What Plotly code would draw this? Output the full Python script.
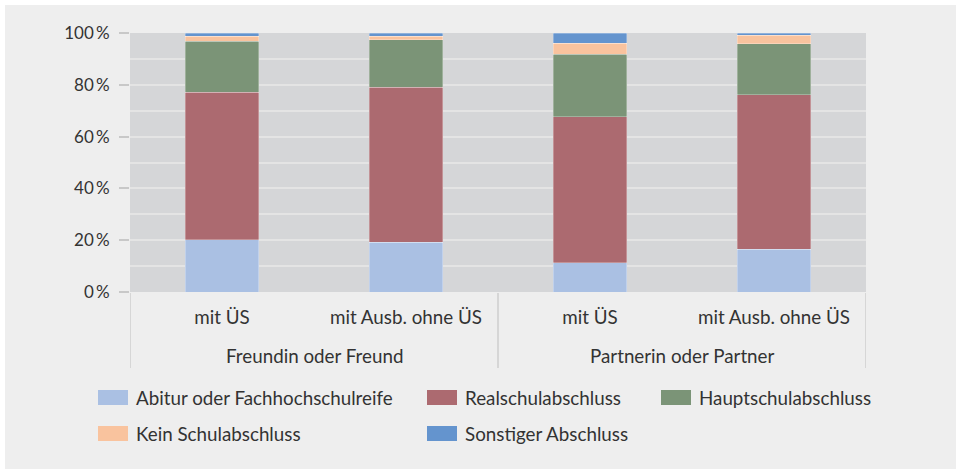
import plotly.graph_objects as go

groups = ["Freundin oder Freund", "Freundin oder Freund", "Partnerin oder Partner", "Partnerin oder Partner"]
subgroups = ["mit ÜS", "mit Ausb. ohne ÜS", "mit ÜS", "mit Ausb. ohne ÜS"]

series_names = ["Abitur oder Fachhochschulreife", "Realschulabschluss", "Hauptschulabschluss",
                "Kein Schulabschluss", "Sonstiger Abschluss"]
abitur = [20.1, 19.2, 11.2, 16.6]
realschule = [57.1, 59.8, 56.4, 59.6]
hauptschule = [19.7, 18.3, 24.2, 19.6]
kein = [1.9, 1.5, 4.3, 3.3]
sonstiger = [1.2, 1.2, 3.9, 0.9]
series_values = [abitur, realschule, hauptschule, kein, sonstiger]
colors = ["#aac0e3", "#ac6a70", "#7b9477", "#f9c39e", "#6494ce"]

y_ticks = [0, 20, 40, 60, 80, 100]
y_ticklabels = [f"{v}\u2009%" for v in y_ticks]

W, H = 956, 469
ML, MR, MT, MB = 130, 90, 33, 177
FONT = "Lato"
FS = 18.8
TXT = "#333333"

xpos = list(range(len(subgroups)))

fig = go.Figure()
for name, vals, col in zip(series_names, series_values, colors):
    fig.add_trace(go.Bar(
        x=xpos, y=vals, name=name,
        marker=dict(color=col, line=dict(color="rgba(255,255,255,0.35)", width=0.8)),
        showlegend=False,
    ))

pw = W - ML - MR
ph = H - MT - MB
def px_x(p):
    return (p - ML) / pw
def px_y(p):
    return 1 - (p - MT) / ph

shapes = [
    dict(type="rect", xref="paper", yref="paper", x0=px_x(0), x1=px_x(5), y0=px_y(H), y1=px_y(0),
         fillcolor="white", line=dict(width=0), layer="below"),
    dict(type="rect", xref="paper", yref="paper", x0=px_x(0), x1=px_x(W), y0=px_y(5), y1=px_y(0),
         fillcolor="white", line=dict(width=0), layer="below"),
]
annotations = []

# group labels and dividers derived from the group list
bounds = [-0.5]
group_order = []
for i, g in enumerate(groups):
    if i > 0 and g != groups[i - 1]:
        bounds.append(i - 0.5)
    if g not in group_order:
        group_order.append(g)
bounds.append(len(groups) - 0.5)
for b in bounds:
    shapes.append(dict(type="line", xref="x", yref="paper", x0=b, x1=b,
                       y0=px_y(293), y1=px_y(368), line=dict(color="#d6d6d6", width=2)))
for g in group_order:
    idx = [i for i, gg in enumerate(groups) if gg == g]
    annotations.append(dict(xref="x", yref="paper", x=sum(idx) / len(idx), y=px_y(355),
                            xanchor="center", yanchor="middle", showarrow=False, text=g,
                            font=dict(family=FONT, size=FS, color=TXT)))

# manual legend
col_x = [98, 427, 661]
row_y = [397.5, 433.5]
positions = [(0, 0), (1, 0), (2, 0), (0, 1), (1, 1)]
for (ci, ri), name, col in zip(positions, series_names, colors):
    x0 = col_x[ci]
    yc = row_y[ri]
    shapes.append(dict(type="rect", xref="paper", yref="paper",
                       x0=px_x(x0), x1=px_x(x0 + 30), y0=px_y(yc + 7.5), y1=px_y(yc - 7.5),
                       fillcolor=col, line=dict(width=0)))
    annotations.append(dict(xref="paper", yref="paper", x=px_x(x0 + 36), y=px_y(yc),
                            xanchor="left", yanchor="middle", showarrow=False, text=name,
                            font=dict(family=FONT, size=FS, color=TXT)))

fig.update_layout(
    width=W, height=H,
    margin=dict(l=ML, r=MR, t=MT, b=MB, autoexpand=False),
    paper_bgcolor="#eeeeee",
    plot_bgcolor="#d5d6d8",
    barmode="stack",
    bargap=0.6,
    showlegend=False,
    font=dict(family=FONT, size=FS, color=TXT),
    shapes=shapes,
    annotations=annotations,
    xaxis=dict(
        range=[-0.5, len(subgroups) - 0.5],
        tickvals=xpos, ticktext=subgroups,
        showgrid=False, showline=False, zeroline=False,
        ticks="",
        tickfont=dict(family=FONT, size=FS, color=TXT),
        ticklabelstandoff=12,
    ),
    yaxis=dict(
        range=[0, 100], tickvals=y_ticks, ticktext=y_ticklabels,
        ticks="outside", ticklen=10, tickcolor="#c8c8c8", tickwidth=1.5,
        showgrid=True, gridcolor="#e4e4e4", gridwidth=2,
        minor=dict(dtick=10, showgrid=True, gridcolor="#e4e4e4", gridwidth=2),
        zeroline=False, showline=False,
        tickfont=dict(family=FONT, size=17, color=TXT),
        ticklabelstandoff=6,
    ),
)

fig.write_html("out.html", config={"displayModeBar": False},
               post_script="document.body.style.margin='0';")
